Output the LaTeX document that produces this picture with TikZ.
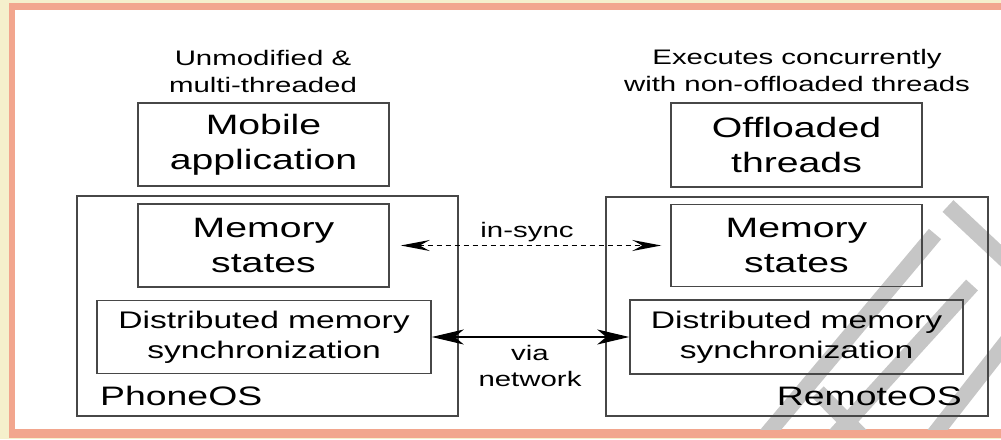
\documentclass[tikz,border=0pt]{standalone}
\usepackage{fontspec}
\setmainfont{Liberation Sans}[FakeStretch=1.4]
\usetikzlibrary{arrows.meta}

\definecolor{glow}{HTML}{F5F0CC}
\definecolor{frame}{HTML}{F2A68E}
\definecolor{boxline}{HTML}{474747}
\definecolor{mark}{HTML}{C6C6C6}

\tikzset{
  box/.style={draw=boxline, line width=1.5pt, align=center, inner sep=0pt},
  bigtxt/.style={font=\fontsize{28pt}{35pt}\selectfont},
  midtxt/.style={font=\fontsize{24pt}{30pt}\selectfont},
  ostxt/.style={font=\fontsize{26.7pt}{33pt}\selectfont, inner sep=0pt},
  smalltxt/.style={font=\fontsize{21pt}{26.5pt}\selectfont, align=center, inner sep=0pt},
  synclink/.style={line width=1.3pt, dash pattern=on 5pt off 4pt,
    {Stealth[length=29pt,width=11pt,inset=10pt]}-{Stealth[length=29pt,width=11pt,inset=10pt]},
    shorten <=11pt, shorten >=9pt},
  netlink/.style={line width=1.6pt,
    {Stealth[length=32pt,width=15pt,inset=9pt]}-{Stealth[length=32pt,width=15pt,inset=9pt]}},
  markstroke/.style={draw=mark, line width=16pt}
}

\begin{document}
\begin{tikzpicture}[x=1pt, y=-1pt]
  \useasboundingbox (0,0) rectangle (1001,439);

  % page background and frame
  \fill[glow] (0,0) rectangle (1001,439);
  \fill[frame] (9,3) rectangle (1010,438);
  \fill[white] (15,10) rectangle (1010,429);

  % diagonal watermark strokes
  \begin{scope}
    \clip (15,10) rectangle (1001,429);
    \draw[markstroke] (948,206) -- (1012,266);
    \draw[markstroke] (935,234) -- (752,452);
    \draw[markstroke] (972,285) -- (820,452);
    \draw[markstroke] (818,392) -- (875,450);
    \draw[markstroke] (1012,335) -- (922,450);
  \end{scope}

  % top-level components
  \node[box, bigtxt, minimum width=251pt, minimum height=83pt] (app) at (263.5,144.5) {Mobile\\application};
  \node[box, bigtxt, minimum width=251pt, minimum height=84pt] (offl) at (796.5,145) {Offloaded\\threads};

  \node[smalltxt] (applbl) at (263,71.5) {Unmodified \&\\multi-threaded};
  \node[smalltxt] (offllbl) at (797,70.5) {Executes concurrently\\with non-offloaded threads};

  % operating system containers
  \node[box, minimum width=381pt, minimum height=220pt] (phone) at (267.5,306) {};
  \node[box, minimum width=382pt, minimum height=219pt] (remote) at (797,306.5) {};

  \node[ostxt, anchor=base west] (phonelbl) at (100,405) {PhoneOS};
  \node[ostxt, anchor=base east] (remotelbl) at (962,405) {RemoteOS};

  % memory state boxes
  \node[box, bigtxt, minimum width=251pt, minimum height=83pt] (memL) at (263.5,245.5) {Memory\\states};
  \node[box, bigtxt, minimum width=251pt, minimum height=82pt] (memR) at (796.5,245.5) {Memory\\states};

  % synchronization layers
  \node[box, midtxt, minimum width=334pt, minimum height=73pt] (dsmL) at (264,337) {Distributed memory\\synchronization};
  \node[box, midtxt, minimum width=333pt, minimum height=74pt] (dsmR) at (796.5,337) {Distributed memory\\synchronization};

  % connections
  \draw[synclink] (memL.east) -- (memR.west);
  \node[smalltxt, anchor=base] (synclbl) at (527,237) {in-sync};

  \draw[netlink] (dsmL.east) -- (dsmR.west);
  \node[smalltxt] (netlbl) at (530,366) {via\\network};
\end{tikzpicture}
\end{document}
